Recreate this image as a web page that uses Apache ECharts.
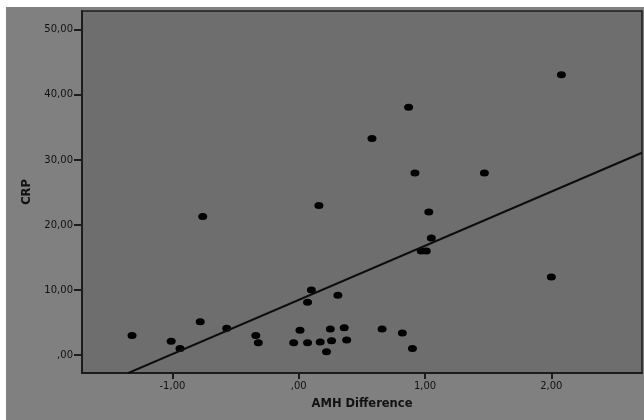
<!DOCTYPE html>
<html>
<head>
<meta charset="utf-8">
<script src="https://cdn.jsdelivr.net/npm/echarts@6/dist/echarts.min.js"></script>
<style>
  html, body { margin: 0; padding: 0; background: #ffffff; }
  #chart { position: absolute; left: 6px; top: 7px; width: 638px; height: 413px; }
</style>
</head>
<body>
<div id="chart"></div>
<script>
// AMH difference (x) vs CRP (y)
var amhDiff = [-1.32, -1.01, -0.94, -0.78, -0.76, -0.57, -0.34, -0.32, -0.04, 0.01,
               0.07, 0.07, 0.10, 0.16, 0.17, 0.22, 0.25, 0.26, 0.31, 0.36,
               0.38, 0.58, 0.66, 0.82, 0.87, 0.90, 0.92, 0.97, 1.01, 1.03,
               1.05, 1.47, 2.00, 2.08];
var crp = [3.0, 2.1, 1.0, 5.1, 21.3, 4.1, 3.0, 1.9, 1.9, 3.8,
           1.9, 8.1, 10.0, 23.0, 2.0, 0.5, 4.0, 2.2, 9.2, 4.2,
           2.3, 33.3, 4.0, 3.4, 38.1, 1.0, 28.0, 16.0, 16.0, 22.0,
           18.0, 28.0, 12.0, 43.1];

// fit line end points (at the edges of the plot box)
var fitX = [-1.353, 2.718];
var fitY = [-2.8, 31.1];

var xTicks = [-1, 0, 1, 2];
var yTicks = [0, 10, 20, 30, 40, 50];

function fmt(v) {
    if (v === 0) return ',00';
    return v.toFixed(2).replace('.', ',');
}

var points = amhDiff.map(function (x, i) { return [x, crp[i]]; });
var fit = fitX.map(function (x, i) { return [x, fitY[i]]; });

var chart = echarts.init(document.getElementById('chart'));

var option = {
    backgroundColor: '#808080',
    animation: false,
    grid: {
        left: 76,
        top: 4,
        right: 2,
        bottom: 47,
        show: true,
        backgroundColor: '#6e6e6e',
        borderColor: '#1c1c1c',
        borderWidth: 1.5
    },
    xAxis: {
        type: 'value',
        min: -1.716,
        max: 2.718,
        name: 'AMH Difference',
        nameLocation: 'middle',
        nameGap: 25,
        nameTextStyle: {
            fontFamily: 'DejaVu Sans',
            fontWeight: 'bold',
            fontSize: 11.5,
            color: '#111'
        },
        axisLine: { show: true, onZero: false, lineStyle: { color: '#1c1c1c', width: 2 } },
        axisTick: { show: true, length: 6, customValues: xTicks, lineStyle: { color: '#1c1c1c', width: 2 } },
        axisLabel: {
            customValues: xTicks,
            formatter: fmt,
            margin: 8,
            fontFamily: 'DejaVu Sans',
            fontSize: 10,
            color: '#111'
        },
        splitLine: { show: false }
    },
    yAxis: {
        type: 'value',
        min: -2.77,
        max: 52.9,
        name: 'CRP',
        nameLocation: 'middle',
        nameRotate: 90,
        nameGap: 46,
        nameTextStyle: {
            fontFamily: 'DejaVu Sans',
            fontWeight: 'bold',
            fontSize: 11.5,
            color: '#111'
        },
        axisLine: { show: true, onZero: false, lineStyle: { color: '#1c1c1c', width: 2 } },
        axisTick: { show: true, length: 8, customValues: yTicks, lineStyle: { color: '#1c1c1c', width: 2 } },
        axisLabel: {
            customValues: yTicks,
            formatter: fmt,
            margin: 9,
            fontFamily: 'DejaVu Sans',
            fontSize: 10,
            color: '#111'
        },
        splitLine: { show: false }
    },
    series: [
        {
            type: 'scatter',
            symbol: 'circle',
            symbolSize: [9, 7],
            itemStyle: { color: '#000000', opacity: 1 },
            data: points
        },
        {
            type: 'line',
            symbol: 'none',
            lineStyle: { color: '#0d0d0d', width: 2 },
            data: fit
        }
    ]
};

chart.setOption(option);
</script>
</body>
</html>
